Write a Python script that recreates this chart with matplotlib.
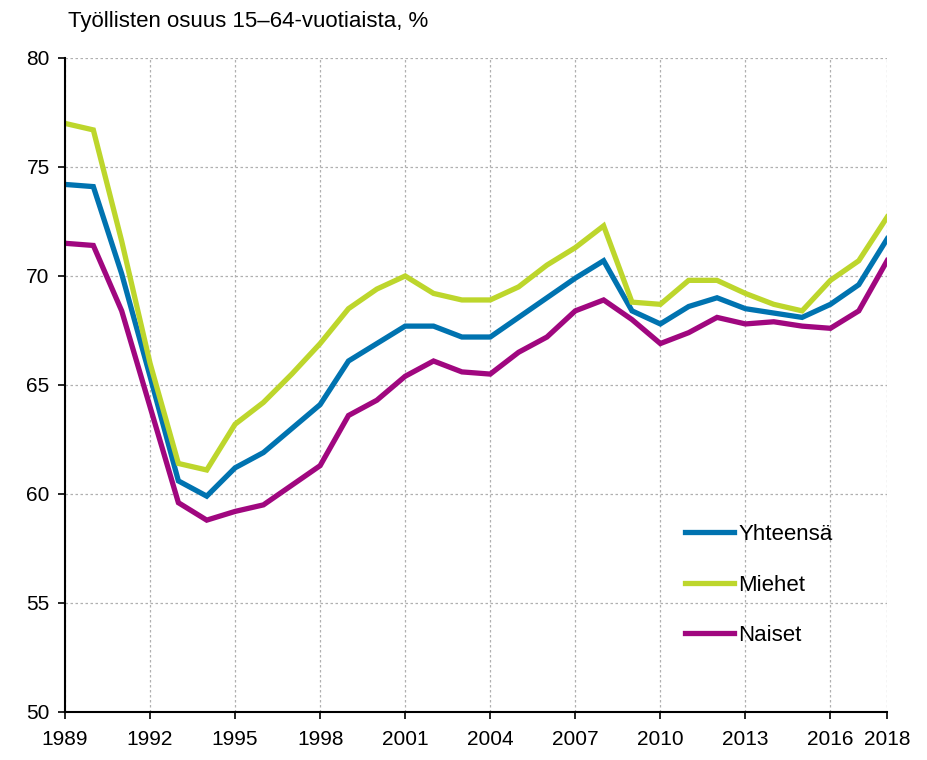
import matplotlib
matplotlib.use("Agg")
import matplotlib.pyplot as plt
from matplotlib.font_manager import fontManager

years = list(range(1989, 2019))
yhteensa = [74.2, 74.1, 70.1, 65.4, 60.6, 59.9, 61.2, 61.9, 63.0, 64.1,
            66.1, 66.9, 67.7, 67.7, 67.2, 67.2, 68.1, 69.0, 69.9, 70.7,
            68.4, 67.8, 68.6, 69.0, 68.5, 68.3, 68.1, 68.7, 69.6, 71.7]
miehet = [77.0, 76.7, 71.6, 66.0, 61.4, 61.1, 63.2, 64.2, 65.5, 66.9,
          68.5, 69.4, 70.0, 69.2, 68.9, 68.9, 69.5, 70.5, 71.3, 72.3,
          68.8, 68.7, 69.8, 69.8, 69.2, 68.7, 68.4, 69.8, 70.7, 72.7]
naiset = [71.5, 71.4, 68.4, 64.0, 59.6, 58.8, 59.2, 59.5, 60.4, 61.3,
          63.6, 64.3, 65.4, 66.1, 65.6, 65.5, 66.5, 67.2, 68.4, 68.9,
          68.0, 66.9, 67.4, 68.1, 67.8, 67.9, 67.7, 67.6, 68.4, 70.7]
series_names = ["Yhteensä", "Miehet", "Naiset"]
colors = ["#0073b0", "#bdd62c", "#a0077f"]
xticks = [1989, 1992, 1995, 1998, 2001, 2004, 2007, 2010, 2013, 2016, 2018]
yticks = [50, 55, 60, 65, 70, 75, 80]
title = "Työllisten osuus 15–64-vuotiaista, %"

names = {f.name for f in fontManager.ttflist}
fam = ["Liberation Sans Narrow", "Liberation Sans", "DejaVu Sans"]
fam = [f for f in fam if f in names] + ["DejaVu Sans"]
plt.rcParams['font.family'] = fam

fig = plt.figure(figsize=(9.27, 7.6), dpi=100)
ax = fig.add_axes([0.0701, 0.0632, 0.957 - 0.0701, 0.9237 - 0.0632])

for vals, name, c in zip([yhteensa, miehet, naiset], series_names, colors):
    ax.plot(years, vals, color=c, lw=3.8, label=name, solid_joinstyle='miter')

ax.set_xlim(1989, 2018)
ax.set_ylim(50, 80)
ax.set_xticks(xticks)
ax.set_yticks(yticks)
ax.tick_params(axis='both', labelsize=15, length=5, width=1.2, color='black')
ax.tick_params(axis='x', pad=8)
ax.tick_params(axis='y', pad=6)
ax.grid(True, color='#b0b0b0', linestyle=(0, (2, 2)), linewidth=0.9)
ax.set_axisbelow(True)
for s in ['top', 'right']:
    ax.spines[s].set_visible(False)
for s in ['left', 'bottom']:
    ax.spines[s].set_linewidth(1.5)
    ax.spines[s].set_color('black')

leg = ax.legend(loc='upper left', bbox_to_anchor=(0.73, 0.318), frameon=False,
                fontsize=16, handlelength=2.2, handletextpad=0.2, labelspacing=1.33)

fig.text(68 / 927, 1 - 22 / 760, title, fontsize=16, ha='left', va='center')

fig.savefig("out.png", dpi=100)
